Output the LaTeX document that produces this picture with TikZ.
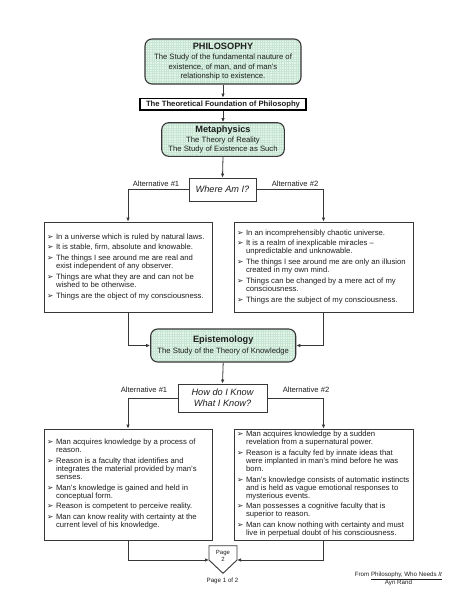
\documentclass[tikz,border=0pt]{standalone}
\usepackage{fontspec}
\setmainfont{Liberation Sans}
\newfontfamily\dejavu{DejaVu Sans}
\usetikzlibrary{arrows.meta}
\definecolor{mint}{RGB}{226,245,233}
\definecolor{gridc}{RGB}{200,230,211}
\definecolor{ln}{RGB}{55,55,55}
\definecolor{txt}{RGB}{30,30,30}
\newcommand\bodyfont{\fontsize{7.7}{8}\selectfont}
\newcommand\descfont{\fontsize{7.7}{9.3}\selectfont}
\newcommand\ttlfont{\fontsize{9.2}{11}\selectfont\bfseries}
\newcommand\bul{\raisebox{0pt}{\dejavu\fontsize{7.6}{7.6}\selectfont ➢}}
\newcommand\I{\makebox[9pt][l]{\bul}}
\newcommand\blist[2]{\makebox[#1][l]{\begin{tabular}{@{}l@{}l@{}}#2\end{tabular}}}
\begin{document}
\begin{tikzpicture}[x=1pt,y=-1pt,
  every node/.style={text=txt, inner sep=0pt},
  greenbox/.style={draw=ln, line width=1.1pt, fill=mint, rounded corners=7pt, align=center, font=\descfont,
    path picture={\draw[gridc, line width=0.25pt, step=2.4pt] (path picture bounding box.south west) grid (path picture bounding box.north east);}},
  plainbox/.style={draw=ln, line width=0.8pt, fill=white},
  listbox/.style={plainbox, inner xsep=3pt, inner ysep=0pt, font=\bodyfont},
  qbox/.style={plainbox, align=center, font=\fontsize{9.2}{11.3}\selectfont\itshape},
  lbl/.style={font=\fontsize{7.6}{8}\selectfont},
  arr/.style={draw=ln, line width=0.8pt, -{Latex[length=4pt,width=3.5pt]}}]
\useasboundingbox (0,0) rectangle (474,613);
\fill[white] (0,0) rectangle (474,613);

\node[greenbox, minimum width=156pt, minimum height=45pt] (phil) at (223,61.5)
  {{\ttlfont PHILOSOPHY}\\[1.1pt] The Study of the fundamental nauture of\\ existence, of man, and of man's\\ relationship to existence.};
\node[draw=black, line width=1.6pt, fill=white, minimum width=166.4pt, minimum height=11.7pt,
  font=\fontsize{7.7}{9}\selectfont\bfseries] (found) at (223,104.3) {The Theoretical Foundation of Philosophy};
\node[greenbox, minimum width=122.6pt, minimum height=33.6pt] (meta) at (223,139.5)
  {{\ttlfont Metaphysics}\\[0.7pt] The Theory of Reality\\ The Study of Existence as Such};
\node[qbox, minimum width=67pt, minimum height=23pt] (where) at (222.5,189.5) {Where Am I?};

\node[listbox, minimum height=90pt] (b1l) at (128,267) {\blist{162pt}{%
\I & In a universe which is ruled by natural laws.\\[2.8pt]
\I & It is stable, firm, absolute and knowable.\\[2.8pt]
\I & The things I see around me are real and\\
   & exist independent of any observer.\\[2.8pt]
\I & Things are what they are and can not be\\
   & wished to be otherwise.\\[2.8pt]
\I & Things are the object of my consciousness.}};
\node[listbox, minimum height=90pt] (b1r) at (323.5,267) {\blist{173pt}{%
\I & In an incomprehensibly chaotic universe.\\[2.8pt]
\I & It is a realm of inexplicable miracles --\\
   & unpredictable and unknowable.\\[2.8pt]
\I & The things I see around me are only an illusion\\
   & created in my own mind.\\[2.8pt]
\I & Things can be changed by a mere act of my\\
   & consciousness.\\[2.8pt]
\I & Things are the subject of my consciousness.}};

\node[greenbox, minimum width=145pt, minimum height=33pt] (epi) at (223.2,345.5)
  {{\ttlfont Epistemology}\\[1pt] The Study of the Theory of Knowledge};
\node[qbox, minimum width=89pt, minimum height=28pt] (how) at (222.5,398) {How do I Know\\What I Know?};

\node[listbox, minimum height=111pt] (b2l) at (128,484.5) {\blist{162pt}{%
\I & Man acquires knowledge by a process of\\
   & reason.\\[2.7pt]
\I & Reason is a faculty that identifies and\\
   & integrates the material provided by man's\\
   & senses.\\[2.7pt]
\I & Man's knowledge is gained and held in\\
   & conceptual form.\\[2.7pt]
\I & Reason is competent to perceive reality.\\[2.7pt]
\I & Man can know reality with certainty at the\\
   & current level of his knowledge.}};
\node[listbox, minimum height=111pt] (b2r) at (323.5,484.5) {\blist{173pt}{%
\I & Man acquires knowledge by a sudden\\
   & revelation from a supernatural power.\\[2.7pt]
\I & Reason is a faculty fed by innate ideas that\\
   & were implanted in man's mind before he was\\
   & born.\\[2.7pt]
\I & Man's knowledge consists of automatic instincts\\
   & and is held as vague emotional responses to\\
   & mysterious events.\\[2.7pt]
\I & Man possesses a cognitive faculty that is\\
   & superior to reason.\\[2.7pt]
\I & Man can know nothing with certainty and must\\
   & live in perpetual doubt of his consciousness.}};

\coordinate (pgL) at (209,560);
\coordinate (pgR) at (237,560);
\draw[ln, line width=0.9pt, fill=white] (209,545.7) -- (237,545.7) -- (pgR) -- (223,573.3) -- (pgL) -- cycle;
\node[font=\fontsize{6}{7}\selectfont, align=center] (pg) at (223,555.5) {Page\\2};

\node[lbl] (a1) at (156,184) {Alternative \#1};
\node[lbl] (a2) at (295,184) {Alternative \#2};
\node[lbl] (a3) at (144,390) {Alternative \#1};
\node[lbl] (a4) at (306,390) {Alternative \#2};

\node[font=\fontsize{6.2}{7.5}\selectfont] (p12) at (222.5,581) {Page 1 of 2};
\node[font=\fontsize{6.2}{8}\selectfont, align=center] (src) at (398.5,579)
  {From \underline{Philosophy, Who Needs \textit{It}}\\ Ayn Rand};

\draw[arr] (phil.south) -- (found.north);
\draw[arr] (found.south) -- (meta.north);
\draw[arr] (meta.south) -- (where.north);
\draw[arr] (where.west) -| (b1l.north);
\draw[arr] (where.east) -| (b1r.north);
\draw[arr] (b1l.south) |- (epi.west);
\draw[arr] (b1r.south) |- (epi.east);
\draw[arr] (epi.south) -- (how.north);
\draw[arr] (how.west) -| (b2l.north);
\draw[arr] (how.east) -| (b2r.north);
\draw[arr] (b2l.south) |- (pgL);
\draw[arr] (b2r.south) |- (pgR);
\end{tikzpicture}
\end{document}
